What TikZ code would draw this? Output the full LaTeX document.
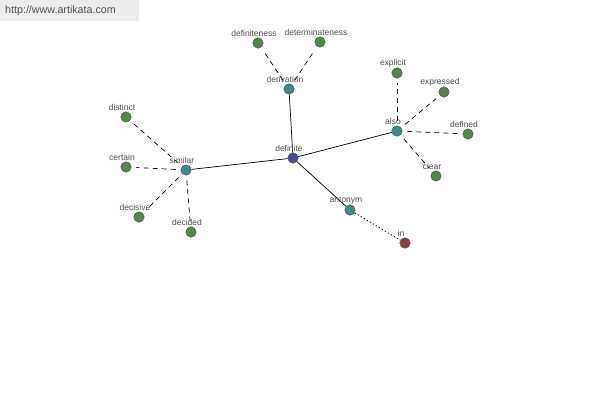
\documentclass[tikz,border=0pt]{standalone}
\usepackage{fontspec}
\setmainfont{Liberation Sans}
\usepackage{xcolor}
\usetikzlibrary{arrows.meta, backgrounds}
\definecolor{wordgreen}{HTML}{4E8A46}
\definecolor{hubteal}{HTML}{3C8C8C}
\definecolor{rootblue}{HTML}{4A4A9C}
\definecolor{antored}{HTML}{8C3C3C}
\definecolor{textgray}{HTML}{505050}
\definecolor{headbg}{HTML}{ECECEC}
\definecolor{headtext}{HTML}{4A5A48}
\tikzset{
  dot/.style={circle, draw=black!70, thin, minimum size=10.5pt, inner sep=0pt},
  word/.style={dot, fill=wordgreen},
  hub/.style={dot, fill=hubteal},
  root/.style={dot, fill=rootblue},
  anto/.style={dot, fill=antored},
  tag/.style={font=\fontsize{8.5}{9}\selectfont, text=textgray, inner sep=0.5pt, xshift=-4pt},
  every label/.style={tag},
  link/.style={line width=0.7pt, black},
  weak/.style={line width=0.7pt, black, dash pattern=on 5pt off 4pt, shorten <=5pt, shorten >=5pt},
  antolink/.style={line width=0.7pt, black, dash pattern=on 1.5pt off 2pt},
}

\begin{document}
\begin{tikzpicture}[x=1pt,y=-1pt]
    \useasboundingbox (0,0) rectangle (600,400);
    \fill[headbg] (0,0) rectangle (139,21);
    \node[anchor=west, font=\fontsize{10.7}{12}\selectfont, text=headtext, inner sep=0pt] (site) at (5,10.5) {http://www.artikata.com};
    % centre and hubs
    \node[root, label={above:definite}] (definite) at (293,158) {};
    \node[hub, label={above:derivation}] (derivation) at (289,89) {};
    \node[hub, label={above:also}] (also) at (397,131) {};
    \node[hub, label={above:similar}] (similar) at (186,170) {};
    \node[hub, label={above:antonym}] (antonym) at (350,210) {};
    % leaves
    \node[word, label={above:definiteness}] (definiteness) at (258,43) {};
    \node[word, label={above:determinateness}] (determinateness) at (320,42) {};
    \node[word, label={above:explicit}] (explicit) at (397,73) {};
    \node[word, label={above:expressed}] (expressed) at (444,92) {};
    \node[word, label={above:defined}] (defined) at (468,134) {};
    \node[word, label={above:clear}] (clear) at (436,176) {};
    \node[word, label={above:distinct}] (distinct) at (126,117) {};
    \node[word, label={above:certain}] (certain) at (126,167) {};
    \node[word, label={above:decisive}] (decisive) at (139,217) {};
    \node[word, label={above:decided}] (decided) at (191,232) {};
    \node[anto, label={above:in}] (in) at (405,243) {};
    % edges
    \begin{scope}[on background layer]
    \draw[link] (definite) -- (derivation);
    \draw[link] (definite) -- (also);
    \draw[link] (definite) -- (similar);
    \draw[link] (definite) -- (antonym);
    \draw[weak] (derivation) -- (definiteness);
    \draw[weak] (derivation) -- (determinateness);
    \draw[weak] (also) -- (explicit);
    \draw[weak] (also) -- (expressed);
    \draw[weak] (also) -- (defined);
    \draw[weak] (also) -- (clear);
    \draw[weak] (similar) -- (distinct);
    \draw[weak] (similar) -- (certain);
    \draw[weak] (similar) -- (decisive);
    \draw[weak] (similar) -- (decided);
    \draw[antolink] (antonym) -- (in);
    \end{scope}
\end{tikzpicture}
\end{document}
